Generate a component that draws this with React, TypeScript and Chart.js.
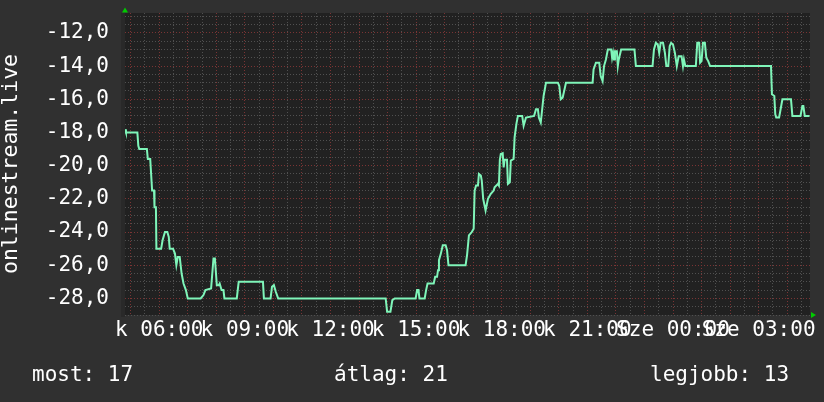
import React, { useEffect, useRef } from 'react';
import { Chart, registerables } from 'chart.js';

Chart.register(...registerables);

// minutes since midnight of day 1 (k = kedd); >= 1440 is the next day (Sze)
const times = [
  288, 290, 314, 316, 318, 334, 336, 341, 345, 349, 350, 353, 354, 364, 367, 372, 377, 380, 382, 389,
  393, 396, 399, 403, 407, 411, 416, 420, 447, 453, 457, 469, 474, 477, 481, 485, 487, 491, 495, 497,
  523, 527, 578, 580, 594, 597, 601, 605, 610, 836, 839, 846, 850, 855, 899, 902, 905, 907, 918, 921,
  924, 937, 940, 944, 946, 948, 952, 956, 962, 965, 968, 1004, 1007, 1011, 1017, 1021, 1023, 1026, 1030, 1032,
  1036, 1038, 1041, 1046, 1051, 1057, 1063, 1065, 1072, 1074, 1076, 1078, 1082, 1084, 1086, 1091, 1093, 1097, 1099, 1105,
  1107, 1111, 1114, 1123, 1126, 1131, 1148, 1152, 1156, 1158, 1162, 1165, 1168, 1173, 1198, 1201, 1204, 1208, 1212, 1215,
  1271, 1273, 1278, 1285, 1288, 1292, 1295, 1299, 1303, 1310, 1312, 1314, 1316, 1318, 1322, 1324, 1326, 1331, 1359, 1362,
  1397, 1400, 1404, 1408, 1411, 1414, 1419, 1423, 1426, 1430, 1433, 1436, 1440, 1444, 1448, 1452, 1458, 1461, 1463, 1466,
  1488, 1491, 1495, 1497, 1500, 1503, 1507, 1510, 1514, 1518, 1646, 1648, 1653, 1655, 1657, 1663, 1665, 1670, 1688, 1691,
  1708, 1712, 1714, 1717, 1727,
];

const values = [
  -17.8, -18, -18, -18.8, -19, -19, -19.6, -19.6, -21.5, -21.5, -22.5, -22.5, -25, -25, -24.5, -24, -24, -24.3, -25, -25,
  -25.3, -26, -25.5, -25.5, -26.5, -27.1, -27.5, -28, -28, -27.8, -27.5, -27.4, -25.6, -25.6, -27.2, -27.2, -27.1, -27.5, -27.5, -28,
  -28, -27, -27, -28, -28, -27.3, -27.2, -27.6, -28, -28, -28.8, -28.8, -28.1, -28, -28, -27.5, -27.5, -28, -28, -27.5,
  -27.1, -27.1, -26.7, -26.7, -26.3, -25.7, -25.3, -24.8, -24.8, -25.1, -26, -26, -25.4, -24.2, -24, -23.8, -21.5, -21.2, -21.2, -20.5,
  -20.6, -20.9, -22, -22.7, -22, -21.7, -21.5, -21.3, -21.1, -21.2, -19.65, -19.3, -19.25, -20.1, -19.65, -19.65, -21.1, -21, -19.7, -19.6,
  -18.3, -17.45, -17, -17, -17.6, -17.1, -17, -16.6, -16.6, -17.1, -17.4, -16.6, -15.8, -15, -15, -15.2, -16, -15.9, -15.4, -15,
  -15, -14.2, -13.8, -13.8, -14.6, -14.9, -14, -13.6, -13, -13, -13.5, -13.2, -13.6, -13.1, -13.1, -14, -13.6, -13, -13, -14,
  -14, -13, -12.6, -12.7, -13.2, -12.6, -12.6, -13.2, -14, -14, -12.8, -12.6, -12.7, -13.2, -14, -13.4, -13.4, -14, -13.6, -14,
  -14, -12.6, -12.6, -13.8, -13.7, -12.6, -12.6, -13.5, -13.7, -14, -14, -15.7, -15.8, -16.9, -17.1, -17.1, -16.8, -16, -16, -17,
  -17, -16.4, -16.4, -17, -17,
];

const xMin = 288;
const xMax = 1728;
const yMin = -29;
const yMax = -10.8;
const dayNames = ['k', 'Sze'];
const axisTitle = 'onlinestream.live';
const legendTexts = ['most: 17', 'átlag: 21', 'legjobb: 13'];

const FONT = "'DejaVu Sans Mono', monospace";

const decor = {
  id: 'decor',
  beforeDraw(chart: any) {
    const { ctx, chartArea: a } = chart;
    ctx.save();
    ctx.fillStyle = '#292929';
    ctx.fillRect(a.left - 4, a.top, 4, a.bottom - a.top + 2);
    ctx.fillStyle = '#212121';
    ctx.fillRect(a.left, a.top, a.right - a.left, a.bottom - a.top);
    ctx.restore();
  },
  afterDraw(chart: any) {
    const { ctx, chartArea: a } = chart;
    ctx.save();
    ctx.fillStyle = '#00cc00';
    ctx.beginPath();
    ctx.moveTo(a.left - 3, a.top - 0.5);
    ctx.lineTo(a.left + 3, a.top - 0.5);
    ctx.lineTo(a.left, a.top - 5.5);
    ctx.closePath();
    ctx.fill();
    ctx.beginPath();
    ctx.moveTo(a.right + 1, a.bottom - 3);
    ctx.lineTo(a.right + 1, a.bottom + 3);
    ctx.lineTo(a.right + 6, a.bottom);
    ctx.closePath();
    ctx.fill();
    ctx.restore();
  },
};

function pad2(n: number) {
  return n < 10 ? '0' + n : '' + n;
}

export default function App() {
  const ref = useRef<HTMLCanvasElement | null>(null);

  useEffect(() => {
    document.body.style.margin = '0';
    if (!ref.current) return;
    const chart = new Chart(ref.current, {
      type: 'line',
      data: {
        datasets: [
          {
            data: times.map((t, i) => ({ x: t, y: values[i] })),
            borderColor: '#7ff5b9',
            borderWidth: 2,
            pointRadius: 0,
            tension: 0,
            fill: false,
          },
        ],
      },
      options: {
        animation: false,
        responsive: false,
        maintainAspectRatio: false,
        layout: { padding: { left: 0, top: 13, right: 14, bottom: 0 } },
        plugins: { legend: { display: false }, tooltip: { enabled: false } },
        scales: {
          x: {
            type: 'linear',
            min: xMin,
            max: xMax,
            afterBuildTicks(scale: any) {
              const t = [];
              for (let v = 300; v <= 1710; v += 30) t.push({ value: v });
              scale.ticks = t;
            },
            afterFit(scale: any) {
              scale.height = 87;
              scale.paddingLeft = 0;
              scale.paddingRight = 0;
              scale.paddingTop = 0;
              scale.paddingBottom = 0;
            },
            ticks: {
              autoSkip: false,
              maxRotation: 0,
              minRotation: 0,
              padding: 3,
              color: '#ffffff',
              font: { family: FONT, size: 21 },
              callback(value: any) {
                const v = Number(value);
                if (v % 180 !== 0) return '';
                const day = v >= 1440 ? dayNames[1] : dayNames[0];
                const m = v % 1440;
                return `${day} ${pad2(Math.floor(m / 60))}:${pad2(m % 60)}`;
              },
            },
            grid: {
              drawTicks: false,
              lineWidth: 1,
              color: (c: any) => (c.tick && c.tick.value % 60 === 0 ? '#7a3434' : '#505050'),
            },
            border: { display: false, dash: [1, 2] },
          },
          y: {
            type: 'linear',
            min: yMin,
            max: yMax,
            afterBuildTicks(scale: any) {
              const t = [];
              for (let v = -29; v <= -11; v += 0.5) t.push({ value: v });
              scale.ticks = t;
            },
            afterFit(scale: any) {
              scale.width = 125;
              scale.paddingLeft = 0;
              scale.paddingRight = 0;
              scale.paddingTop = 0;
              scale.paddingBottom = 0;
            },
            ticks: {
              autoSkip: false,
              padding: 16,
              color: '#ffffff',
              font: { family: FONT, size: 21 },
              callback(value: any) {
                const v = Number(value);
                if (Math.abs(v % 2) > 1e-9 || v < -28) return '';
                return v.toFixed(1).replace('.', ',');
              },
            },
            grid: {
              drawTicks: false,
              lineWidth: 1,
              color: (c: any) => (c.tick && Math.abs(c.tick.value % 2) < 1e-9 ? '#7a3434' : '#505050'),
            },
            border: { display: false, dash: [1, 2] },
            title: {
              display: true,
              text: axisTitle,
              color: '#ffffff',
              font: { family: FONT, size: 21.5, lineHeight: 1.03 },
              padding: 0,
            },
          },
        },
      },
      plugins: [decor],
    } as any);
    return () => chart.destroy();
  }, []);

  const legendStyle = (left: number): React.CSSProperties => ({
    position: 'absolute',
    left,
    top: 362,
    fontFamily: FONT,
    fontSize: 21,
    lineHeight: '25px',
    color: '#ffffff',
    whiteSpace: 'pre',
  });

  return (
    <div style={{ position: 'fixed', left: 0, top: 0, width: 824, height: 402, background: '#303030', overflow: 'hidden' }}>
      <canvas ref={ref} width={824} height={402} style={{ position: 'absolute', left: 0, top: 0, width: 824, height: 402 }} />
      <div style={legendStyle(32)}>{legendTexts[0]}</div>
      <div style={legendStyle(334)}>{legendTexts[1]}</div>
      <div style={legendStyle(650)}>{legendTexts[2]}</div>
    </div>
  );
}
